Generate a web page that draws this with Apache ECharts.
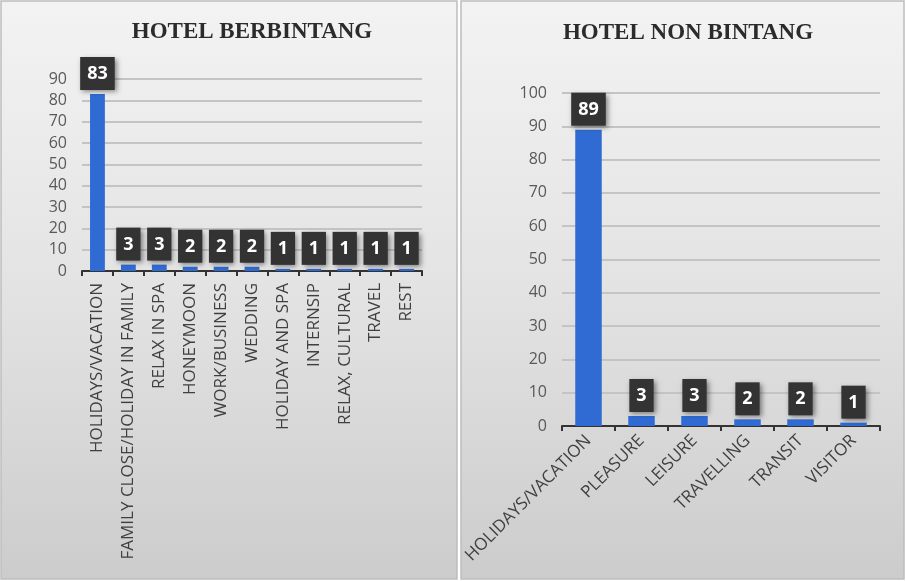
<!DOCTYPE html>
<html>
<head>
<meta charset="utf-8">
<script src="https://cdn.jsdelivr.net/npm/echarts@6/dist/echarts.min.js"></script>
<style>
html,body{margin:0;padding:0;background:#fff;}
#c{width:906px;height:581px;}
</style>
</head>
<body>
<div id="c"></div>
<script>
const titleLeft = 'HOTEL BERBINTANG';
const titleRight = 'HOTEL NON BINTANG';
const catLeft = ['HOLIDAYS/VACATION','FAMILY CLOSE/HOLIDAY IN FAMILY','RELAX IN SPA','HONEYMOON','WORK/BUSINESS','WEDDING','HOLIDAY AND SPA','INTERNSIP','RELAX, CULTURAL','TRAVEL','REST'];
const valLeft = [83,3,3,2,2,2,1,1,1,1,1];
const catRight = ['HOLIDAYS/VACATION','PLEASURE','LEISURE','TRAVELLING','TRANSIT','VISITOR'];
const valRight = [89,3,3,2,2,1];
const yLeftMax = 90, yRightMax = 100, yInterval = 10;

const chart = echarts.init(document.getElementById('c'), null, {renderer:'canvas'});
const bg = {type:'linear',x:0,y:0,x2:0,y2:1,colorStops:[{offset:0,color:'#f3f3f3'},{offset:0.5,color:'#e3e3e3'},{offset:1,color:'#cccccc'}]};
const labelStyle = {
  show:true, position:'top', distance:4,
  color:'#fff', fontWeight:'bold', fontSize:18, fontFamily:'Open Sans',
  backgroundColor:'#333333', padding:[6,7,5,7], lineHeight:22,
  shadowColor:'rgba(0,0,0,0.45)', shadowBlur:5, shadowOffsetX:2, shadowOffsetY:2
};
const axisLabelY = {color:'#595959', fontSize:16, fontFamily:'Open Sans', margin:15};
const xLabel = {color:'#404040', fontSize:17, fontFamily:'Open Sans', interval:0};

chart.setOption({
  animation:false,
  graphic:[
    {type:'rect', shape:{x:1,y:1,width:456,height:578}, style:{fill:bg, stroke:'#bdbdbd', lineWidth:1.5}, z:-10},
    {type:'rect', shape:{x:461,y:1,width:443,height:578}, style:{fill:bg, stroke:'#bdbdbd', lineWidth:1.5}, z:-10}
  ],
  title:[
    {text:titleLeft, left:247, top:16, textAlign:'center', textStyle:{fontFamily:'Liberation Serif', fontWeight:'bold', fontSize:23, color:'#2b2b2b'}},
    {text:titleRight, left:683, top:17, textAlign:'center', textStyle:{fontFamily:'Liberation Serif', fontWeight:'bold', fontSize:23, color:'#2b2b2b'}}
  ],
  grid:[
    {left:82, right:484, top:79, bottom:310},
    {left:562, right:26, top:93, bottom:155}
  ],
  xAxis:[
    {type:'category', gridIndex:0, data:catLeft, axisLine:{lineStyle:{color:'#333', width:2}}, axisTick:{show:true, length:5, lineStyle:{color:'#333', width:2}}, axisLabel:Object.assign({rotate:90, margin:12}, xLabel)},
    {type:'category', gridIndex:1, data:catRight, axisLine:{lineStyle:{color:'#333', width:2}}, axisTick:{show:true, length:5, lineStyle:{color:'#333', width:2}}, axisLabel:Object.assign({rotate:45, margin:12}, xLabel)}
  ],
  yAxis:[
    {type:'value', gridIndex:0, min:0, max:yLeftMax, interval:yInterval, axisLine:{show:false}, axisTick:{show:false}, axisLabel:axisLabelY, splitLine:{lineStyle:{color:'#c4c4c4', width:2}}},
    {type:'value', gridIndex:1, min:0, max:yRightMax, interval:yInterval, axisLine:{show:false}, axisTick:{show:false}, axisLabel:axisLabelY, splitLine:{lineStyle:{color:'#c4c4c4', width:2}}}
  ],
  series:[
    {type:'bar', xAxisIndex:0, yAxisIndex:0, data:valLeft, barWidth:'48%', itemStyle:{color:'#2f6bd2'}, label:labelStyle},
    {type:'bar', xAxisIndex:1, yAxisIndex:1, data:valRight, barWidth:'50%', itemStyle:{color:'#2f6bd2'}, label:labelStyle}
  ]
});
</script>
</body>
</html>
